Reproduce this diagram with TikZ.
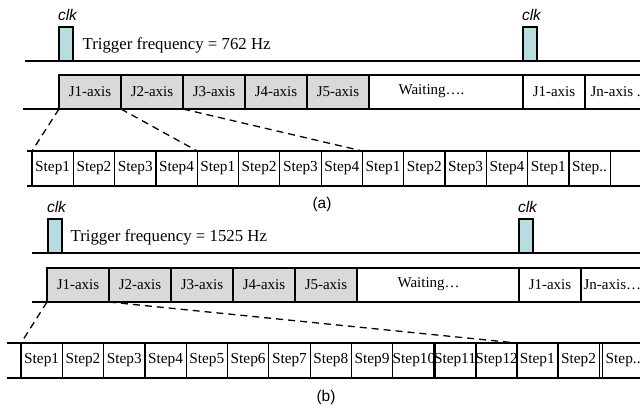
\documentclass[tikz,border=0pt]{standalone}
\usepackage{fontspec}
\setmainfont{Liberation Serif}
\setsansfont{Liberation Sans}
\usetikzlibrary{positioning}

\definecolor{clkblue}{RGB}{183,221,225}
\definecolor{axisgray}{RGB}{217,217,217}

\tikzset{
  pulse/.style={draw, fill=clkblue, minimum width=14pt, minimum height=34pt,
    inner sep=0pt, outer sep=0pt, anchor=south west},
  clklabel/.style={font=\sffamily\itshape\fontsize{15.5}{18}\selectfont,
    inner sep=0pt, anchor=base},
  freqtext/.style={font=\fontsize{16.8}{20}\selectfont, inner sep=0pt,
    anchor=base west},
  axisbox/.style={draw, minimum height=34pt, inner sep=0pt, outer sep=0pt,
    anchor=north west, font=\fontsize{15}{18}\selectfont},
  axistext/.style={font=\fontsize{15}{18}\selectfont, inner sep=0pt},
  stepbox/.style={draw, minimum width=41.3pt, minimum height=35pt,
    inner sep=0pt, outer sep=0pt, anchor=north west,
    font=\fontsize{15.3}{18}\selectfont},
  captext/.style={font=\sffamily\fontsize{15.5}{18}\selectfont,
    inner sep=0pt, anchor=base},
  zoomline/.style={dashed, dash pattern=on 7pt off 5pt, line width=1.3pt}
}

\begin{document}
\begin{tikzpicture}[x=1pt, y=-1pt, line width=1.2pt]
  \useasboundingbox (0,0) rectangle (640,410);
  \clip (0,0) rectangle (640,410);

  % ---------- (a) ----------
  % clock line
  \coordinate (ka0) at (25,61); \coordinate (ka1) at (640,61);
  \draw (ka0) -- (ka1);
  \node[pulse] (pa1) at (59,61) {}; \node[pulse] (pa2) at (523,61) {};
  \node[clklabel] (ca1) at ([xshift=1.5pt,yshift=7pt]pa1.north) {clk};
  \node[clklabel] (ca2) at ([xshift=1.5pt,yshift=7pt]pa2.north) {clk};
  \node[freqtext] (fa) at (82,49) {Trigger frequency = 762 Hz};

  % joint slots
  \foreach \i in {1,...,5}
    \node[axisbox, fill=axisgray, minimum width=62pt] (ja\i)
      at ({59+62*(\i-1)},75) {J\i-axis};
  \node[axisbox, minimum width=154pt] (wa) at (369,75) {};
  \node[axistext, anchor=west] (wta) at ([xshift=29pt,yshift=1pt]wa.west)
    {Waiting….};
  \node[axisbox, minimum width=62pt] (ja6) at (523,75) {J1-axis};
  \node[axisbox, minimum width=70pt] (jan) at (585,75) {};
  \node[axistext, anchor=west] (jnta) at ([xshift=5pt]jan.west) {Jn-axis ..};
  \coordinate (ra) at (23,109);
  \draw (ra) -- (ja1.south west);

  % steps
  \foreach \t [count=\k from 1] in {Step1,Step2,Step3,Step4,Step1,Step2,Step3,
      Step4,Step1,Step2,Step3,Step4,Step1,{Step..},{}}
    \node[stepbox] (sa\k) at ({32+41.3*(\k-1)},151) {\t};
  \coordinate (la0) at (27,151); \coordinate (la1) at (27,186);
  \draw (la0) -- (sa1.north west); \draw (la1) -- (sa1.south west);

  % dashed lines
  \draw[zoomline] (ja1.south west) -- (sa1.north west);
  \draw[zoomline] (ja2.south west) -- (sa5.north west);
  \draw[zoomline] (ja3.south west) -- (sa9.north west);

  \node[captext] (cpa) at (322,208) {(a)};

  % ---------- (b) ----------
  % clock line
  \coordinate (kb0) at (32,253); \coordinate (kb1) at (640,253);
  \draw (kb0) -- (kb1);
  \node[pulse] (pb1) at (48,253) {}; \node[pulse] (pb2) at (519,253) {};
  \node[clklabel] (cb1) at ([xshift=1.5pt,yshift=7pt]pb1.north) {clk};
  \node[clklabel] (cb2) at ([xshift=1.5pt,yshift=7pt]pb2.north) {clk};
  \node[freqtext] (fb) at (70,241) {Trigger frequency = 1525 Hz};

  % joint slots
  \foreach \i in {1,...,5}
    \node[axisbox, fill=axisgray, minimum width=62pt] (jb\i)
      at ({47+62*(\i-1)},268) {J\i-axis};
  \node[axisbox, minimum width=162pt] (wb) at (357,268) {};
  \node[axistext, anchor=west] (wtb) at ([xshift=40pt,yshift=1pt]wb.west)
    {Waiting…};
  \node[axisbox, minimum width=62pt] (jb6) at (519,268) {J1-axis};
  \node[axisbox, minimum width=70pt] (jbn) at (581,268) {};
  \node[axistext, anchor=west] (jntb) at ([xshift=2pt]jbn.west) {Jn-axis…};
  \coordinate (rb) at (32,302);
  \draw (rb) -- (jb1.south west);

  % steps
  \foreach \k in {1,...,12}
    \node[stepbox] (sb\k) at ({21+41.3*(\k-1)},343) {Step\k};
  \node[stepbox] (sb13) at (516.6,343) {Step1};
  \node[stepbox] (sb14) at (557.9,343) {Step2};
  \node[stepbox] (sb15) at (602.5,343) {Step..};
  \coordinate (lb0) at (7,343); \coordinate (lb1) at (7,378);
  \draw (lb0) -- (sb15.north west); \draw (lb1) -- (sb15.south west);

  % dashed lines
  \draw[zoomline] (jb1.south west) -- (sb1.north west);
  \draw[zoomline] (jb2.south west) -- (sb13.north west);

  \node[captext] (cpb) at (326,401) {(b)};
\end{tikzpicture}
\end{document}
